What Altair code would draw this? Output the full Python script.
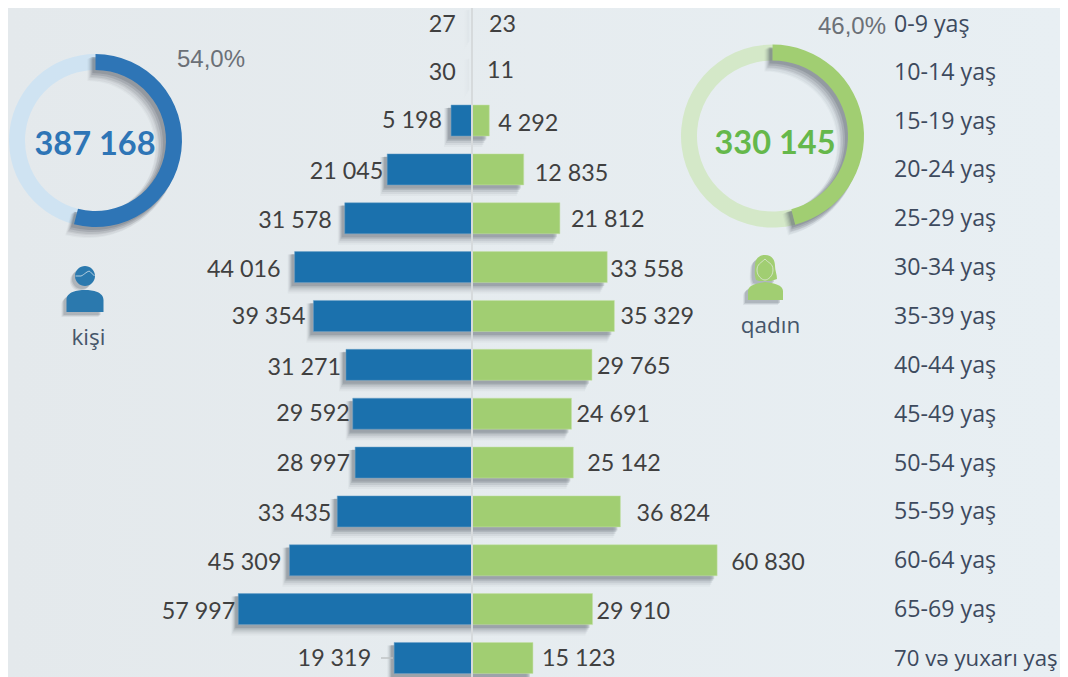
import altair as alt
import pandas as pd

# ---- chart data ----
ages = ["0-9 yaş", "10-14 yaş", "15-19 yaş", "20-24 yaş", "25-29 yaş", "30-34 yaş", "35-39 yaş",
        "40-44 yaş", "45-49 yaş", "50-54 yaş", "55-59 yaş", "60-64 yaş", "65-69 yaş", "70 və yuxarı yaş"]
male = [27, 30, 5198, 21045, 31578, 44016, 39354, 31271, 29592, 28997, 33435, 45309, 57997, 19319]
female = [23, 11, 4292, 12835, 21812, 33558, 35329, 29765, 24691, 25142, 36824, 60830, 29910, 15123]
male_total = 387168
female_total = 330145
male_share = 54.0
female_share = 46.0

# ---- label placement as in the original slide (pixels from the bar end / row centre) ----
male_gap = [16, 16, 9, 4, 13, 14, 8, 5, 3, 5, 6, 8, 3, 23]
female_gap = [17, 15, 9, 11, 11, 3, 6, 5, 5, 14, 16, 14, 4, 9]
male_nudge = [2.5, 1.5, 0.5, 2.5, 2.5, 2.5, 1.5, 3.5, 0.5, 1.5, 2.5, 2.5, 2.5, 1.5]
female_nudge = [2.5, -0.5, 3, 4.5, 1.5, 2.5, 1.5, 2.5, 1.5, 1.5, 2.5, 2.5, 2.5, 1.5]

W, H = 1052, 669
PX_PER_UNIT = 0.00403
ZERO = 464
x_scale = alt.Scale(domain=[-ZERO / PX_PER_UNIT, (W - ZERO) / PX_PER_UNIT], nice=False, zero=False)
y_scale = alt.Scale(domain=ages, range=[-9.63, 674.4], paddingInner=0, paddingOuter=0)
X = lambda f: alt.X(f, scale=x_scale, axis=None)
Y = alt.Y("age:N", sort=ages, scale=y_scale, axis=None)


def fmt(v):
    return f"{v:,}".replace(",", " ")


rows = pd.DataFrame({
    "age": ages,
    "m": [-v for v in male], "f": female, "zero": [0] * len(ages),
    "ml": [fmt(v) for v in male], "fl": [fmt(v) for v in female],
})
base = alt.Chart(rows)

BLUE, GREEN = "#1b71ad", "#a1ce72"
FONT_NUM, FONT_UI = "Lato", "Open Sans"

layers = []

# subtle background gradient
bg = alt.Chart(pd.DataFrame({"a": [0]})).mark_rect(
    fill=alt.Gradient(gradient="linear", x1=0, x2=1, y1=0, y2=0,
                      stops=[alt.GradientStop(color="#e4e9ec", offset=0),
                             alt.GradientStop(color="#e8eff3", offset=1)])
).encode(x=alt.value(0), x2=alt.value(W), y=alt.value(0), y2=alt.value(H))
layers.append(bg)

# bar shadows
for (dx, dy, grow, op) in [(-7, 7, 8, .04), (-6, 6, 6, .07), (-5, 5, 4, .10), (-4, 4, 2, .14), (-3, 3, 1, .16)]:
    for f in ("m", "f"):
        layers.append(base.mark_bar(size=31 + grow, color="#3c4650", opacity=op, xOffset=dx, x2Offset=dx, yOffset=dy, y2Offset=dy)
                      .encode(x=X(f"{f}:Q"), x2="zero:Q", y=Y))

# bars
layers.append(base.mark_bar(size=31, color=BLUE, stroke="#6ea3c9", strokeWidth=0.5).encode(x=X("m:Q"), x2="zero:Q", y=Y))
layers.append(base.mark_bar(size=31, color=GREEN, stroke="#c4e0a8", strokeWidth=0.5).encode(x=X("f:Q"), x2="zero:Q", y=Y))

# centre line
layers.append(alt.Chart(pd.DataFrame({"z": [0]})).mark_rule(color="#d6dadc", strokeWidth=2)
              .encode(x=X("z:Q"), y=alt.value(0), y2=alt.value(H)))

# leader of the last male label
layers.append(alt.Chart(pd.DataFrame({"a": [0]})).mark_rule(color="#bfc3c5", strokeWidth=1.5)
              .encode(x=alt.value(373), x2=alt.value(385), y=alt.value(650)))

# value labels: one text per row so each keeps its own placement
for i, age in enumerate(ages):
    row = alt.Chart(rows.iloc[[i]])
    layers.append(row.mark_text(align="right", baseline="middle", font=FONT_NUM, fontSize=23.3, color="#404040",
                                dx=-male_gap[i], dy=male_nudge[i]).encode(x=X("m:Q"), y=Y, text="ml:N"))
    layers.append(row.mark_text(align="left", baseline="middle", font=FONT_NUM, fontSize=23.3, color="#404040",
                                dx=female_gap[i], dy=female_nudge[i]).encode(x=X("f:Q"), y=Y, text="fl:N"))
    # the longest age label is set a little tighter so that it stays inside the page
    layers.append(row.mark_text(align="left", baseline="middle", font=FONT_UI, fontSize=23.2 if i < len(ages) - 1 else 22.2,
                                color="#3d4a5e", dy=2.5 if i == 0 else 1).encode(x=alt.value(886), y=Y, text="age:N"))


# ---- rings ----
theta_scale = alt.Scale(domain=[0, 100], range=[0, 6.283185307])


def ring(share, cx, cy, R, color_main, color_light):
    d = pd.DataFrame({"start": [0, share], "end": [share, 100]})
    enc = dict(theta=alt.Theta("start:Q", scale=theta_scale), theta2="end:Q", x=alt.value(cx - 8), y=alt.value(cy - 8))
    main, light = alt.Chart(d.iloc[[0]]), alt.Chart(d.iloc[[1]])
    out = [light.mark_arc(radius=R, innerRadius=R - 16, color=color_light).encode(**enc)]
    for (dx, dy, grow, op) in [(-8, 8, 3, .04), (-7, 7, 3, .06), (-6, 6, 2, .08), (-5, 5, 2, .11), (-4, 4, 1, .15), (-3, 3, 0, .18)]:
        out.append(main.mark_arc(radius=R + grow, innerRadius=R - 16 - grow, color="#3c4650", opacity=op).encode(
            theta=alt.Theta("start:Q", scale=theta_scale), theta2="end:Q",
            x=alt.value(cx - 8 + dx), y=alt.value(cy - 8 + dy)))
    out.append(main.mark_arc(radius=R, innerRadius=R - 16, color=color_main).encode(**enc))
    return out


layers += ring(male_share, 95.5, 140.5, 86.5, "#2e75b6", "#cfe3f2")
layers += ring(female_share, 772.5, 136, 91.5, "#a1ce72", "#d4e8c8")


def note(text, px, py, align, font, size, color, weight="normal"):
    return alt.Chart(pd.DataFrame({"t": [text]})).mark_text(
        align=align, baseline="middle", font=font, fontSize=size, color=color, fontWeight=weight
    ).encode(x=alt.value(px - 8), y=alt.value(py - 8), text="t:N")


layers.append(note(fmt(male_total), 95, 145, "center", FONT_NUM, 32.5, "#2e75b6", "bold"))
layers.append(note(fmt(female_total), 775, 144, "center", FONT_NUM, 32.5, "#65b84b", "bold"))
layers.append(note(f"{male_share:.1f}%".replace(".", ","), 177, 60, "left", "Liberation Sans", 24, "#6b7077"))
layers.append(note(f"{female_share:.1f}%".replace(".", ","), 818, 27, "left", "Liberation Sans", 24, "#6b7077"))
layers.append(note("kişi", 88.5, 338, "center", FONT_UI, 22.5, "#46566a"))
layers.append(note("qadın", 770.5, 326, "center", FONT_UI, 22.5, "#46566a"))

# ---- person icons ----
MAN = ("M-10,-16 C-10,-22 -5,-26 0,-26 C5,-26 10,-22 10,-16 C10,-10 5,-6 0,-6 C-5,-6 -10,-10 -10,-16 Z "
       "M-18.5,20 L-18.5,8 C-18.5,0 -8,-2 0,-2 C8,-2 18.5,0 18.5,8 L18.5,20 Z")
MAN_LINE = "M-9.5,-16 L-4,-16 C-1,-17 3,-22 5,-20.5 L9.5,-16"
WOMAN = ("M-9,2 C-11,-4 -10,-8 -10,-12 C-10,-20 -5,-23 0,-23 C8,-23 10,-17 10,-12 C10,-8 12,-3 12,1 L6,3 L-6,3 Z "
         "M-17,22 L-17,13 C-17,7 -8,5 0,4 C9,5 18,7 18,13 L18,22 Z")
WOMAN_LINE = "M-8,-8 C-8,-14 -4,-15 0,-19 C3,-15 8,-15 8,-8 C8,-2 3,2 0,2 C-3,2 -8,-2 -8,-8 Z"


def icon(path, line, px, py, color, line_color):
    d = alt.Chart(pd.DataFrame({"a": [0]}))
    out = []
    for (dx, dy, op) in [(-5, 5, .08), (-4, 4, .12), (-3, 3, .16)]:
        out.append(d.mark_point(shape=path, size=4, filled=True, color="#3c4650", opacity=op)
                   .encode(x=alt.value(px - 8 + dx), y=alt.value(py - 8 + dy)))
    out.append(d.mark_point(shape=path, size=4, filled=True, color=color, opacity=1)
               .encode(x=alt.value(px - 8), y=alt.value(py - 8)))
    out.append(d.mark_point(shape=line, size=4, filled=False, color=line_color, strokeWidth=0.9, opacity=1)
               .encode(x=alt.value(px - 8), y=alt.value(py - 8)))
    return out


layers += icon(MAN, MAN_LINE, 85, 292, "#2b79ae", "#c5d8e4")
layers += icon(WOMAN, WOMAN_LINE, 765, 278, "#a1ce72", "#d8e4cf")

chart = alt.layer(*layers).properties(
    width=W, height=H, background="#e6ecf0", padding=0,
    autosize=alt.AutoSizeParams(type="none"),
).configure_view(stroke=None)

chart.save("out.html", embed_options={"renderer": "svg", "actions": False})
